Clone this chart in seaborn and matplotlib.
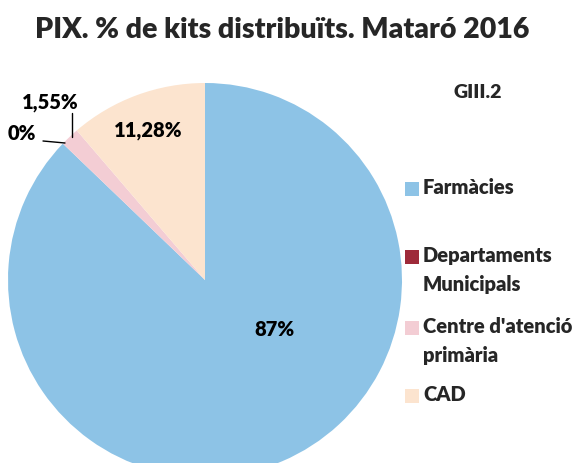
import matplotlib
matplotlib.use("Agg")
import matplotlib.pyplot as plt
from matplotlib.patches import Rectangle
import seaborn as sns

categories = ["Farmàcies", "Departaments\nMunicipals", "Centre d'atenció\nprimària", "CAD"]
values = [87.17, 0.0, 1.55, 11.28]
value_labels = ["87%", "0%", "1,55%", "11,28%"]
colors = ["#8DC3E6", "#9E2A3A", "#F3CDD4", "#FCE4CF"]

sns.set_theme(style="white")
plt.rcParams['font.family'] = ['Lato', 'DejaVu Sans']

fig = plt.figure(figsize=(5.79, 4.63), dpi=100)
ax = fig.add_axes([0, 0, 1, 1])

palette = sns.color_palette(colors)
wedges, _ = ax.pie(values, colors=palette, center=(205, 183), radius=197,
                   startangle=90, counterclock=False,
                   wedgeprops=dict(linewidth=0))
ax.set_xlim(0, 579)
ax.set_ylim(0, 463)
ax.axis("off")

# data labels
lab_kw = dict(fontsize=14.5, fontweight="heavy", ha="center", va="center", color="black")
ax.text(274, 133, value_labels[0], **lab_kw)
ax.text(148, 333, value_labels[3], **lab_kw)
ax.text(50, 360, value_labels[2], **lab_kw)
ax.text(22, 329, value_labels[1], **lab_kw)
ax.plot([72, 72], [350, 326], color="black", lw=1)
ax.plot([43, 65], [322, 320], color="black", lw=1)

fig.text(0.487, 0.935, "PIX. % de kits distribuïts. Mataró 2016", fontsize=20.5,
         fontweight="heavy", ha="center", va="center")
ax.text(478, 370, "GIII.2", fontsize=14, fontweight="heavy", ha="center", va="center")

# legend drawn by hand so spacing matches
leg_y = [274, 206, 135, 67]
for cat, col, y in zip(categories, palette, leg_y):
    ax.add_patch(Rectangle((405, y - 7), 14, 14, facecolor=col, edgecolor="none"))
    ax.text(423, y + 11, cat, fontsize=14.5, fontweight="heavy", ha="left", va="top",
            linespacing=1.6)

fig.savefig("out.png", dpi=100)
